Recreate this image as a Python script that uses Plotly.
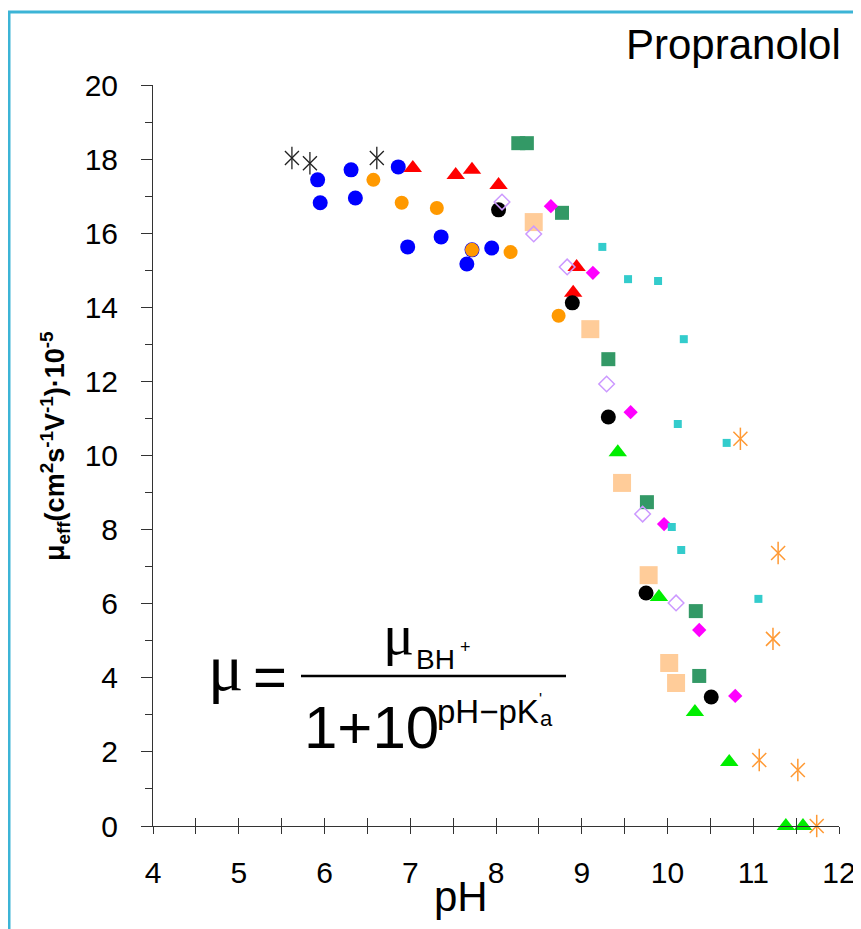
import plotly.graph_objects as go

# ---------------- data (pH, effective mobility x1e-5) ----------------
ast_black_x = [5.62, 5.83, 6.61]
ast_black_y = [18.03, 17.89, 18.03]

blue_x = [5.92, 5.95, 6.31, 6.36, 6.86, 6.97, 7.36, 7.72, 7.66, 7.95]
blue_y = [17.44, 16.82, 17.71, 16.95, 17.79, 15.63, 15.90, 15.55, 15.17, 15.60]

orange_x = [6.57, 6.90, 7.31, 7.72, 8.17, 8.73]
orange_y = [17.44, 16.82, 16.68, 15.55, 15.49, 13.77]

red_x = [7.03, 7.53, 7.72, 8.03, 8.94, 8.90]
red_y = [17.76, 17.57, 17.71, 17.30, 15.09, 14.39]

black_x = [8.03, 8.89, 9.31, 9.75, 10.51]
black_y = [16.63, 14.12, 11.04, 6.29, 3.48]

odiam_x = [8.07, 8.44, 8.83, 9.29, 9.71, 10.10]
odiam_y = [16.84, 15.98, 15.09, 11.93, 8.42, 6.02]

peach_x = [8.44, 9.10, 9.47, 9.78, 10.02, 10.10]
peach_y = [16.30, 13.41, 9.26, 6.77, 4.40, 3.86]

dgreen_x = [8.26, 8.36, 8.77, 9.31, 9.76, 10.33, 10.37]
dgreen_y = [18.43, 18.43, 16.55, 12.60, 8.74, 5.80, 4.05]

magenta_x = [8.64, 9.13, 9.57, 9.96, 10.37, 10.79]
magenta_y = [16.73, 14.93, 11.17, 8.15, 5.29, 3.51]

cyan_x = [9.24, 9.54, 9.89, 10.19, 10.12, 10.69, 10.05, 10.16, 11.06]
cyan_y = [15.63, 14.76, 14.71, 13.14, 10.85, 10.34, 8.07, 7.45, 6.13]

ast_orange_x = [10.85, 11.29, 11.23, 11.07, 11.52, 11.74]
ast_orange_y = [10.45, 7.37, 5.05, 1.78, 1.51, 0.0]

green_x = [9.42, 9.90, 10.32, 10.72, 11.38, 11.58]
green_y = [10.09, 6.18, 3.08, 1.73, 0.0, 0.0]

x_ticks = [4, 5, 6, 7, 8, 9, 10, 11, 12]
y_ticks = [0, 2, 4, 6, 8, 10, 12, 14, 16, 18, 20]

# ---------------- layout geometry (page pixels) ----------------
OFF = 8                      # page body margin around the figure
W, H = 861 - OFF, 929 - OFF
PLOT_L, PLOT_R, PLOT_T, PLOT_B = 153, 839, 85, 826   # page coords of plot area
L = PLOT_L - OFF
T = PLOT_T - OFF
R = W - (PLOT_R - OFF)
B = H - (PLOT_B - OFF)
PW = PLOT_R - PLOT_L
PH = PLOT_B - PLOT_T


def px(x):
    return (x - PLOT_L) / PW


def py(y):
    return (PLOT_B - y) / PH


SANS = "Liberation Sans, Arial, sans-serif"
SERIF = "Liberation Serif, Times New Roman, serif"
AX = "#333333"

fig = go.Figure()


def add(x, y, symbol, size, color, lw=0, lc=None):
    fig.add_trace(go.Scatter(
        x=x, y=y, mode="markers", cliponaxis=False, showlegend=False,
        marker=dict(symbol=symbol, size=size, color=color,
                    line=dict(width=lw, color=lc if lc else color)),
    ))


add(blue_x, blue_y, "circle", 15, "#0000FF")
add(orange_x, orange_y, "circle", 14, "#FF9900")
add(red_x, red_y, "triangle-up", 16, "#FF0000")
add(peach_x, peach_y, "square", 18, "#FFCC99")
add(dgreen_x, dgreen_y, "square", 14, "#339966")
add(black_x, black_y, "circle", 15, "#000000")
add(odiam_x, odiam_y, "diamond-open", 12, "#CC99FF", lw=1.5, lc="#CC99FF")
add(magenta_x, magenta_y, "diamond", 11, "#FF00FF")
add(cyan_x, cyan_y, "square", 8, "#33CCCC")
add(green_x, green_y, "triangle-up", 16, "#00EE00")
# six-armed asterisks: X + vertical bar
add(ast_black_x, ast_black_y, "x-thin-open", 14, "#222222", lw=1.3)
add(ast_black_x, ast_black_y, "line-ns-open", 16, "#222222", lw=1.3)
add(ast_orange_x, ast_orange_y, "x-thin-open", 14, "#FF9933", lw=1.5)
add(ast_orange_x, ast_orange_y, "line-ns-open", 16, "#FF9933", lw=1.5)

# helper trace for the overlay axis (ticks crossing the x axis)
fig.add_trace(go.Scatter(x=[], y=[], xaxis="x2", showlegend=False))

annotations = [
    dict(text="Propranolol", x=px(843), y=py(45), xanchor="right", yanchor="middle",
         font=dict(family=SANS, size=42, color="#000")),
    dict(text="pH", x=px(461), y=py(896), xanchor="center", yanchor="middle",
         font=dict(family=SANS, size=42, color="#000")),
    dict(text="<b>μ<sub>eff</sub>(cm<sup>2</sup>s<sup>-1</sup>V<sup>-1</sup>)·10<sup>-5</sup></b>",
         x=px(55), y=py(446), xanchor="center", yanchor="middle", textangle=-90,
         font=dict(family=SANS, size=27, color="#000")),
    # formula
    dict(text="μ", x=px(206), y=py(667), xanchor="left", yanchor="middle",
         font=dict(family=SERIF, size=66, color="#000")),
    dict(text="=", x=px(270), y=py(676), xanchor="center", yanchor="middle",
         font=dict(family=SANS, size=58, color="#000")),
    dict(text="μ", x=px(381), y=py(634), xanchor="left", yanchor="middle",
         font=dict(family=SERIF, size=58, color="#000")),
    dict(text="BH", x=px(414), y=py(659), xanchor="left", yanchor="middle",
         font=dict(family=SANS, size=28, color="#000")),
    dict(text="+", x=px(458), y=py(647), xanchor="left", yanchor="middle",
         font=dict(family=SANS, size=18, color="#000")),
    dict(text="1+10", x=px(302), y=py(727), xanchor="left", yanchor="middle",
         font=dict(family=SANS, size=60, color="#000")),
    dict(text="pH−pK", x=px(435), y=py(711), xanchor="left", yanchor="middle",
         font=dict(family=SANS, size=33, color="#000")),
    dict(text="'", x=px(537), y=py(699), xanchor="left", yanchor="middle",
         font=dict(family=SANS, size=16, color="#000")),
    dict(text="a", x=px(538), y=py(718), xanchor="left", yanchor="middle",
         font=dict(family=SANS, size=22, color="#000")),
]
for a in annotations:
    a.update(xref="paper", yref="paper", showarrow=False)

shapes = [
    # fraction bar
    dict(type="line", xref="paper", yref="paper", x0=px(301), x1=px(566),
         y0=py(676), y1=py(676), line=dict(color="#000", width=2.5)),
    # cyan frame (left and top edges)
    dict(type="line", xref="paper", yref="paper", x0=px(9), x1=px(9),
         y0=py(12), y1=py(940), line=dict(color="#3CB4D6", width=3)),
    dict(type="line", xref="paper", yref="paper", x0=px(8), x1=px(870),
         y0=py(12), y1=py(12), line=dict(color="#3CB4D6", width=3)),
]

fig.update_layout(
    width=W, height=H,
    margin=dict(l=L, r=R, t=T, b=B, pad=0, autoexpand=False),
    paper_bgcolor="white", plot_bgcolor="white",
    showlegend=False,
    font=dict(family=SANS, color="#000"),
    xaxis=dict(
        range=[4, 12], tickvals=x_ticks, ticktext=[str(v) for v in x_ticks],
        ticks="outside", ticklen=7, tickwidth=1, tickcolor=AX,
        minor=dict(dtick=0.5, tick0=4, ticks="outside", ticklen=7, tickwidth=1, tickcolor=AX),
        showline=True, linecolor=AX, linewidth=1,
        showgrid=False, zeroline=False,
        tickfont=dict(family=SANS, size=30, color="#000"),
        ticklabelstandoff=13,
    ),
    xaxis2=dict(
        range=[4, 12], overlaying="x", anchor="y", side="bottom",
        dtick=0.5, tick0=4, ticks="inside", ticklen=8, tickwidth=1, tickcolor=AX,
        showticklabels=False, showline=False, showgrid=False, zeroline=False,
    ),
    yaxis=dict(
        range=[0, 20], tickvals=y_ticks, ticktext=[str(v) for v in y_ticks],
        ticks="outside", ticklen=11, tickwidth=1, tickcolor=AX,
        minor=dict(dtick=1, tick0=0, ticks="outside", ticklen=7, tickwidth=1, tickcolor=AX),
        showline=True, linecolor=AX, linewidth=1,
        showgrid=False, zeroline=False,
        tickfont=dict(family=SANS, size=30, color="#000"),
        ticklabelstandoff=17,
    ),
    annotations=annotations,
    shapes=shapes,
)

fig.write_html("out.html")
